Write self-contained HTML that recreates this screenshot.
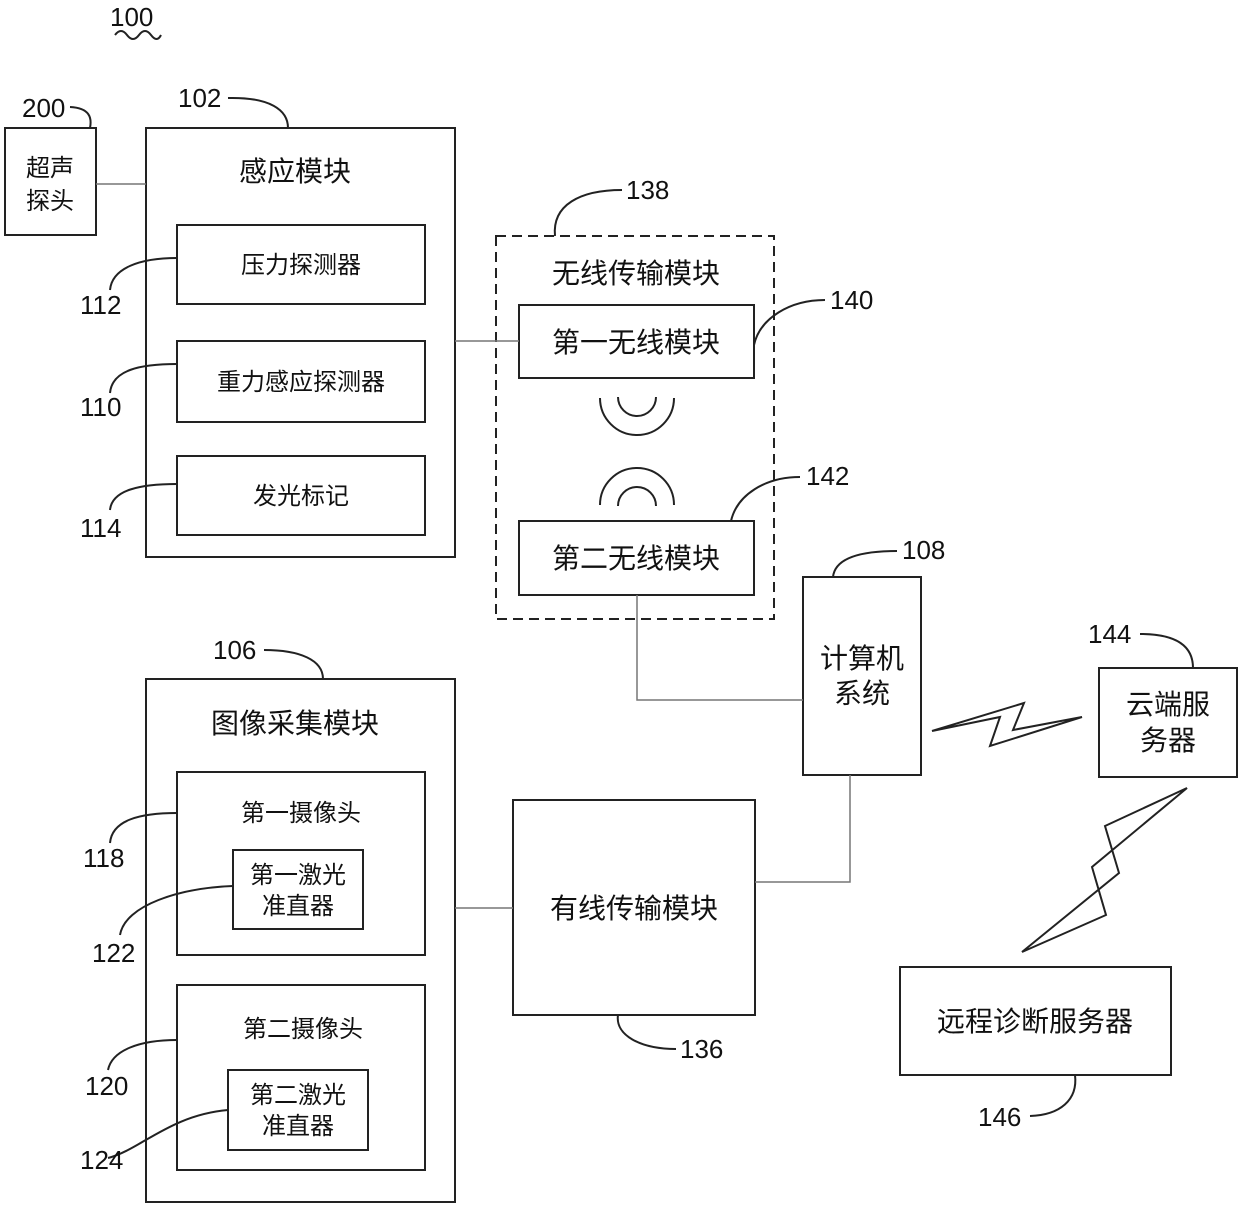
<!DOCTYPE html>
<html><head><meta charset="utf-8"><style>
body{margin:0;background:#fff}
text{font-family:"Liberation Sans","Noto Sans CJK SC",sans-serif;fill:#111}
</style></head><body>
<svg width="1240" height="1206" xmlns="http://www.w3.org/2000/svg">
<g fill="none" stroke="#222" stroke-width="2">
<rect x="5" y="128" width="91" height="107"/>
<rect x="146" y="128" width="309" height="429"/>
<rect x="177" y="225" width="248" height="79"/>
<rect x="177" y="341" width="248" height="81"/>
<rect x="177" y="456" width="248" height="79"/>
<rect x="496" y="236" width="278" height="383" stroke-dasharray="10,6"/>
<rect x="519" y="305" width="235" height="73"/>
<rect x="519" y="521" width="235" height="74"/>
<path d="M618,397 A19,19 0 0 0 656,397 M600,398 A37,37 0 0 0 674,398"/>
<path d="M618,506 A19,19 0 0 1 656,506 M600,505 A37,37 0 0 1 674,505"/>
<rect x="803" y="577" width="118" height="198"/>
<rect x="1099" y="668" width="138" height="109"/>
<rect x="900" y="967" width="271" height="108"/>
<rect x="146" y="679" width="309" height="523"/>
<rect x="177" y="772" width="248" height="183"/>
<rect x="233" y="850" width="130" height="79"/>
<rect x="177" y="985" width="248" height="185"/>
<rect x="228" y="1070" width="140" height="80"/>
<rect x="513" y="800" width="242" height="215"/>
<polygon points="932,731 1024,703 1013,730 1082,717 990,746 1000,717" stroke-width="2"/>
<polygon points="1187,788 1105,826 1119,873 1022,952 1106,915 1092,867" stroke-width="2"/>
</g>
<g fill="none" stroke="#777" stroke-width="1.5">
<path d="M96,184H146 M455,341H519 M637,595V700H803 M455,908H513 M755,882H850V775"/>
</g>
<g fill="none" stroke="#222" stroke-width="2">
<path d="M115,35 q6,-8 12,0 t12,0 t12,0 t10,0"/>
<path d="M70,107 C90,108 92,118 90,128"/>
<path d="M228,98 C270,97 288,110 288,128"/>
<path d="M110,290 C112,268 140,258 177,258"/>
<path d="M110,393 C112,370 140,364 177,364"/>
<path d="M110,510 C112,490 140,484 177,484"/>
<path d="M555,236 C552,205 580,190 622,190"/>
<path d="M754,345 C760,318 790,300 825,300"/>
<path d="M731,521 C737,495 765,477 800,477"/>
<path d="M833,577 C835,558 860,551 897,551"/>
<path d="M1140,634 C1175,634 1193,645 1193,668"/>
<path d="M1075,1075 C1078,1100 1060,1115 1030,1116"/>
<path d="M264,650 C300,650 323,660 323,679"/>
<path d="M618,1015 C615,1035 640,1049 676,1049"/>
<path d="M110,843 C112,820 140,813 177,813"/>
<path d="M120,935 C125,905 180,888 233,886"/>
<path d="M108,1070 C112,1050 140,1040 177,1040"/>
<path d="M108,1158 C140,1150 170,1115 228,1110"/>
</g>
<g font-size="26">
<text x="110" y="26">100</text>
<text x="22" y="117">200</text>
<text x="178" y="107">102</text>
<text x="80" y="314">112</text>
<text x="80" y="416">110</text>
<text x="80" y="537">114</text>
<text x="626" y="199">138</text>
<text x="830" y="309">140</text>
<text x="806" y="485">142</text>
<text x="902" y="559">108</text>
<text x="1088" y="643">144</text>
<text x="978" y="1126">146</text>
<text x="213" y="659">106</text>
<text x="680" y="1058">136</text>
<text x="83" y="867">118</text>
<text x="92" y="962">122</text>
<text x="85" y="1095">120</text>
<text x="80" y="1169">124</text>
</g>
<g text-anchor="middle">
<text x="50" y="176" font-size="24">超声</text>
<text x="50" y="209" font-size="24">探头</text>
<text x="295" y="181" font-size="28">感应模块</text>
<text x="301" y="273" font-size="24">压力探测器</text>
<text x="301" y="390" font-size="24">重力感应探测器</text>
<text x="301" y="504" font-size="24">发光标记</text>
<text x="636" y="283" font-size="28">无线传输模块</text>
<text x="636" y="352" font-size="28">第一无线模块</text>
<text x="636" y="568" font-size="28">第二无线模块</text>
<text x="862" y="668" font-size="28">计算机</text>
<text x="862" y="703" font-size="28">系统</text>
<text x="1168" y="714" font-size="28">云端服</text>
<text x="1168" y="750" font-size="28">务器</text>
<text x="1035" y="1031" font-size="28">远程诊断服务器</text>
<text x="295" y="733" font-size="28">图像采集模块</text>
<text x="301" y="821" font-size="24">第一摄像头</text>
<text x="298" y="883" font-size="24">第一激光</text>
<text x="298" y="914" font-size="24">准直器</text>
<text x="303" y="1037" font-size="24">第二摄像头</text>
<text x="298" y="1103" font-size="24">第二激光</text>
<text x="298" y="1134" font-size="24">准直器</text>
<text x="634" y="918" font-size="28">有线传输模块</text>
</g>
</svg>
</body></html>
